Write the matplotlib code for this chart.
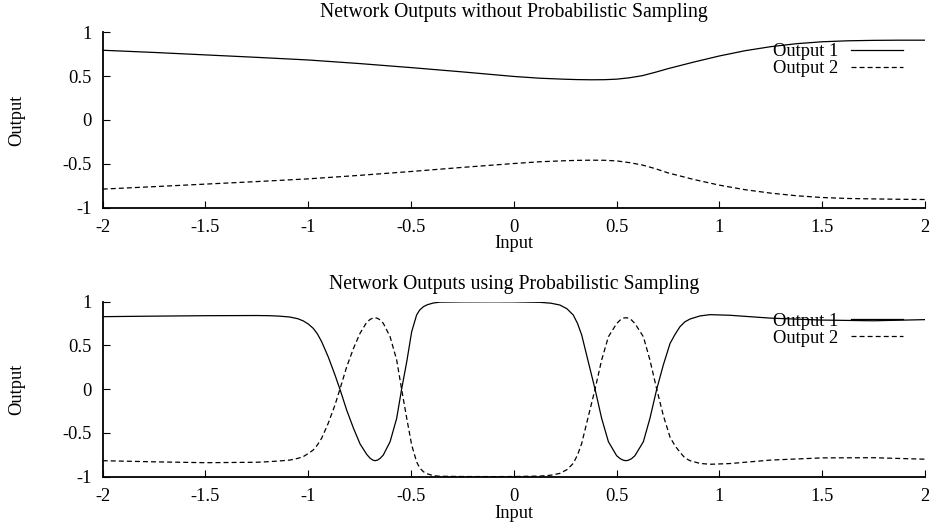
import matplotlib
matplotlib.use("Agg")
import matplotlib.pyplot as plt

plt.rcParams["font.family"] = ["Liberation Serif", "DejaVu Serif"]
plt.rcParams["axes.unicode_minus"] = False
plt.rcParams["lines.scale_dashes"] = False

# Dados - painel de cima (sem amostragem probabilistica)
x_top = [-2.0, -1.75, -1.5, -1.25, -1.0, -0.75, -0.5, -0.25, 0.0, 0.125, 0.25,
         0.31, 0.375, 0.44, 0.5, 0.56, 0.625, 0.69, 0.75, 0.875, 1.0, 1.125,
         1.25, 1.375, 1.5, 1.625, 1.75, 1.875, 2.0]
out1_top = [0.795, 0.77, 0.742, 0.714, 0.684, 0.643, 0.597, 0.548, 0.496, 0.476,
            0.464, 0.46, 0.458, 0.459, 0.465, 0.48, 0.505, 0.545, 0.585, 0.66,
            0.73, 0.79, 0.836, 0.87, 0.892, 0.903, 0.908, 0.91, 0.91]
out2_top = [-0.79, -0.762, -0.733, -0.704, -0.673, -0.633, -0.589, -0.542, -0.498,
            -0.478, -0.466, -0.462, -0.46, -0.461, -0.468, -0.487, -0.515,
            -0.558, -0.605, -0.68, -0.745, -0.797, -0.836, -0.866, -0.886,
            -0.897, -0.902, -0.906, -0.909]

# Dados - painel de baixo (com amostragem probabilistica)
x_bot = [-2.0, -1.75, -1.5, -1.25, -1.19, -1.14, -1.09, -1.05, -1.024, -1.0,
         -0.976, -0.955, -0.935, -0.903, -0.87, -0.846, -0.813, -0.78, -0.748,
         -0.716, -0.7, -0.687, -0.675, -0.663, -0.65, -0.635, -0.602, -0.57,
         -0.546, -0.521, -0.497, -0.473, -0.458, -0.44, -0.42, -0.392, -0.36,
         -0.25, -0.1, 0.0, 0.127, 0.18, 0.224, 0.258, 0.289, 0.31, 0.33, 0.362,
         0.395, 0.427, 0.46, 0.5, 0.518, 0.533, 0.545, 0.557, 0.572, 0.589,
         0.63, 0.662, 0.695, 0.727, 0.76, 0.785, 0.808, 0.832, 0.857, 0.905,
         0.954, 1.05, 1.25, 1.5, 1.75, 2.0]
out1_bot = [0.829, 0.835, 0.84, 0.842, 0.84, 0.835, 0.825, 0.805, 0.78, 0.745,
            0.696, 0.63, 0.543, 0.37, 0.162, 0.0, -0.24, -0.447, -0.626,
            -0.744, -0.787, -0.809, -0.817, -0.81, -0.79, -0.752, -0.6, -0.333,
            0.0, 0.314, 0.657, 0.848, 0.905, 0.943, 0.966, 0.985, 0.995, 0.998,
            0.999, 0.998, 0.993, 0.983, 0.962, 0.92, 0.848, 0.75, 0.62, 0.314,
            0.0, -0.333, -0.6, -0.76, -0.795, -0.812, -0.817, -0.812, -0.795,
            -0.76, -0.6, -0.333, 0.0, 0.277, 0.524, 0.63, 0.714, 0.77, 0.802,
            0.837, 0.852, 0.845, 0.812, 0.79, 0.782, 0.795]
out2_bot = [-0.817, -0.83, -0.84, -0.835, -0.828, -0.82, -0.81, -0.79, -0.77,
            -0.735, -0.695, -0.635, -0.56, -0.39, -0.18, 0.0, 0.257, 0.467,
            0.64, 0.764, 0.796, 0.812, 0.817, 0.81, 0.79, 0.753, 0.6, 0.334,
            0.0, -0.333, -0.638, -0.83, -0.9, -0.943, -0.968, -0.988, -0.995,
            -0.998, -0.999, -0.998, -0.993, -0.983, -0.962, -0.92, -0.848,
            -0.75, -0.62, -0.314, 0.0, 0.333, 0.6, 0.75, 0.792, 0.812, 0.817,
            0.812, 0.792, 0.75, 0.6, 0.333, 0.0, -0.3, -0.55, -0.65, -0.72,
            -0.785, -0.817, -0.848, -0.858, -0.85, -0.81, -0.785, -0.783, -0.80]

x_ticks = [-2, -1.5, -1, -0.5, 0, 0.5, 1, 1.5, 2]
x_tick_labels = ["-2", "-1.5", "-1", "-0.5", "0", "0.5", "1", "1.5", "2"]
y_ticks = [-1, -0.5, 0, 0.5, 1]
y_tick_labels = ["-1", "-0.5", "0", "0.5", "1"]

titles = ["Network Outputs without Probabilistic Sampling",
          "Network Outputs using Probabilistic Sampling"]

FS = 13.3
FS_TITLE = 14.2
W, H = 932, 527


def painel(fig, rect, x, y1, y2, titulo, title_y, xlabel_y):
    ax = fig.add_axes(rect)
    ax.plot(x, y1, color="black", lw=0.9, label="Output 1")
    ax.plot(x, y2, color="black", lw=0.9, dashes=(3.6, 2.2), label="Output 2")

    ax.set_xlim(-2, 2)
    ax.set_ylim(-1, 1)
    ax.set_xticks(x_ticks)
    ax.set_xticklabels(x_tick_labels)
    ax.set_yticks(y_ticks)
    ax.set_yticklabels(y_tick_labels)
    ax.tick_params(direction="in", length=5, width=0.8, labelsize=FS, pad=8)

    for lado in ["top", "right"]:
        ax.spines[lado].set_visible(False)
    for lado in ["left", "bottom"]:
        ax.spines[lado].set_linewidth(1.3)

    ax.legend(loc="center right", bbox_to_anchor=(0.9733, 0.84),
              frameon=False, fontsize=FS, markerfirst=False,
              handlelength=2.8, handletextpad=0.7, borderpad=0,
              borderaxespad=0, labelspacing=0.0)

    cx = rect[0] + rect[2] / 2
    fig.text(cx, 1 - title_y / H, titulo, ha="center", va="center",
             fontsize=FS_TITLE)
    fig.text(cx, 1 - xlabel_y / H, "Input", ha="center", va="center", fontsize=FS)
    fig.text(17 / W, rect[1] + rect[3] / 2, "Output", ha="center", va="center",
             rotation=90, fontsize=FS)
    return ax


fig = plt.figure(figsize=(W / 100, H / 100), dpi=100)

left = 102.7 / W
width = (925 - 102.7) / W
painel(fig, [left, 1 - 207.5 / H, width, 175.2 / H],
       x_top, out1_top, out2_top, titles[0], 13, 243)
painel(fig, [left, 1 - 476.7 / H, width, 175.0 / H],
       x_bot, out1_bot, out2_bot, titles[1], 284, 514)

fig.savefig("out.png", dpi=100)
